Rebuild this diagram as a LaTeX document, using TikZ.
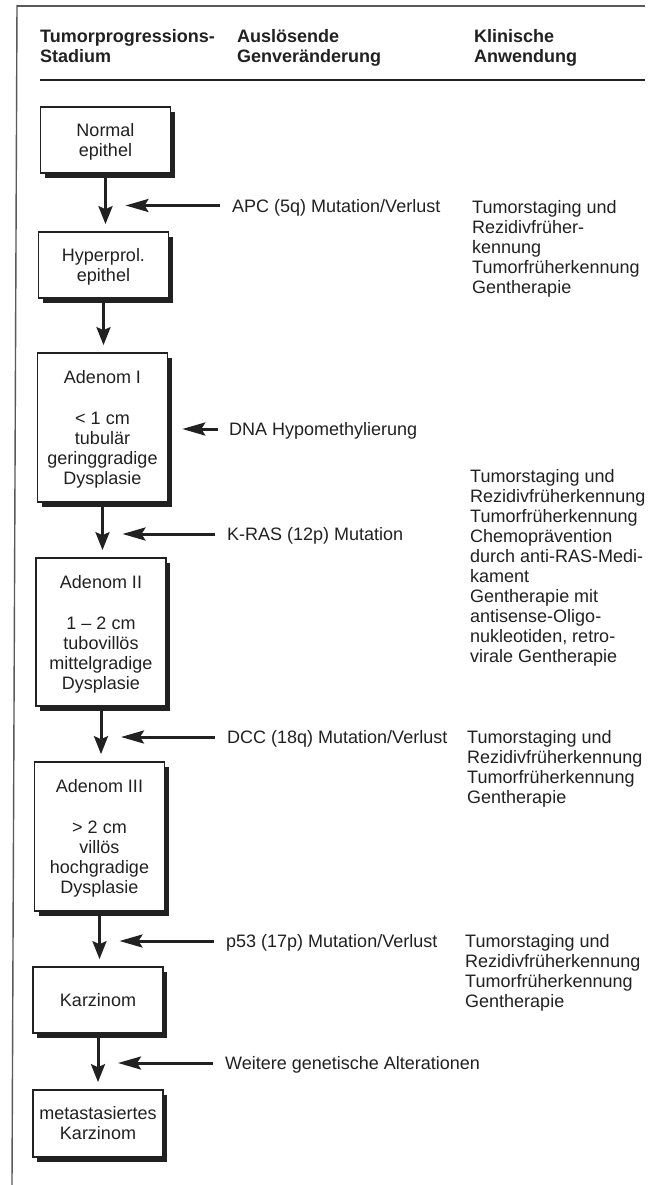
\documentclass[tikz,border=0pt]{standalone}
\usepackage{fontspec}
\setmainfont{Liberation Sans}
\usetikzlibrary{arrows.meta,shadows,calc}
\definecolor{ink}{gray}{0.13}
\definecolor{frame}{gray}{0.35}
\newcommand\myfs{\fontsize{18}{20}\selectfont}
\newcommand\tstr{\rule{0pt}{17pt}}
\newcommand\lines[1]{\begin{tabular}[t]{@{}l@{}}#1\end{tabular}}
\begin{document}
\begin{tikzpicture}[
  x=1pt, y=-1pt,
  stage/.style={draw=ink, line width=1.6pt, fill=white, align=center, font=\myfs,
    text=ink, inner sep=0pt, minimum width=130pt,
    drop shadow={shadow xshift=4pt, shadow yshift=-5pt, fill=ink, opacity=1}},
  lbl/.style={font=\myfs, text=ink, inner sep=0pt, anchor=base west,
    text height=13pt, text depth=0pt},
  cli/.style={font=\myfs, text=ink, inner sep=0pt, anchor=base west},
  head/.style={font=\myfs\bfseries, text=ink, inner sep=0pt, anchor=base west},
  varr/.style={draw=ink, line width=3pt, shorten >=7pt,
    -{Stealth[length=18pt,width=14pt,inset=3pt]}},
  harr/.style={draw=ink, line width=3pt,
    -{Stealth[length=23pt,width=13pt,inset=4pt]}}
]
\useasboundingbox (0,0) rectangle (671,1185);
\fill[white] (0,0) rectangle (671,1185);

% frame
\draw[frame, line width=1.4pt] (17,5) -- (12,1185);
\draw[frame, line width=1.4pt] (17,6) -- (645,6);

% header
\node[head] (h1) at (40,43) {\lines{Tumorprogressions-\\Stadium}};
\node[head] (h2) at (237,43) {\lines{Auslösende\\Genveränderung}};
\node[head] (h3) at (474,43) {\lines{Klinische\\Anwendung}};
\draw[ink, line width=2.7pt] (40,80) -- (645,80);

% stages
\node[stage, minimum height=66pt] (n1) at (105.5,140) {\tstr Normal\\epithel};
\node[stage, minimum height=66pt] (n2) at (103.5,265) {\tstr Hyperprol.\\epithel};
\node[stage, minimum height=149pt] (n3) at (102.5,427.5)
  {\tstr Adenom I\\[21pt]< 1 cm\\tubulär\\geringgradige\\Dysplasie};
\node[stage, minimum height=148pt] (n4) at (101,632)
  {\tstr Adenom II\\[21pt]1 -- 2 cm\\tubovillös\\mittelgradige\\Dysplasie};
\node[stage, minimum height=149pt] (n5) at (99.5,836.5)
  {\tstr Adenom III\\[21pt]> 2 cm\\villös\\hochgradige\\Dysplasie};
\node[stage, minimum height=66pt] (n6) at (98,1000) {Karzinom};
\node[stage, minimum height=67pt] (n7) at (98,1123.5) {metastasiertes\\Karzinom};

% progression arrows
\draw[varr] (n1.south) -- (n1.south |- n2.north);
\draw[varr] (n2.south) -- (n2.south |- n3.north);
\draw[varr] (n3.south) -- (n3.south |- n4.north);
\draw[varr] (n4.south) -- (n4.south |- n5.north);
\draw[varr] (n5.south) -- (n5.south |- n6.north);
\draw[varr] (n6.south) -- (n6.south |- n7.north);

% genetic changes
\node[lbl] (apc) at (232,212) {APC (5q) Mutation/Verlust};
\node[lbl] (dna) at (229,435.5) {DNA Hypomethylierung};
\node[lbl] (kras) at (227,540.5) {K-RAS (12p) Mutation};
\node[lbl] (dcc) at (227,743.5) {DCC (18q) Mutation/Verlust};
\node[lbl] (p53) at (226,947.5) {p53 (17p) Mutation/Verlust};
\node[lbl] (weit) at (225,1069.5) {Weitere genetische Alterationen};

\draw[harr] ($(apc.west)+(-12,0)$) -- ($(apc.west -| n1.south)+(20,0)$);
\draw[harr] ($(dna.west)+(-11,0)$) -- ($(dna.west -| n3.east)+(14,0)$);
\draw[harr] ($(kras.west)+(-12,0)$) -- ($(kras.west -| n3.south)+(20,0)$);
\draw[harr] ($(dcc.west)+(-12,0)$) -- ($(dcc.west -| n4.south)+(20,0)$);
\draw[harr] ($(p53.west)+(-12,0)$) -- ($(p53.west -| n5.south)+(20,0)$);
\draw[harr] ($(weit.west)+(-12,0)$) -- ($(weit.west -| n6.south)+(20,0)$);

% clinical applications
\node[cli] (c1) at (472,213) {\lines{Tumorstaging und\\Rezidivfrüher-\\kennung\\Tumorfrüherkennung\\Gentherapie}};
\node[cli] (c2) at (470,482.5) {\lines{Tumorstaging und\\Rezidivfrüherkennung\\Tumorfrüherkennung\\Chemoprävention\\durch anti-RAS-Medi-\\kament\\Gentherapie mit\\antisense-Oligo-\\nukleotiden, retro-\\virale Gentherapie}};
\node[cli] (c3) at (467,743.5) {\lines{Tumorstaging und\\Rezidivfrüherkennung\\Tumorfrüherkennung\\Gentherapie}};
\node[cli] (c4) at (465,947.5) {\lines{Tumorstaging und\\Rezidivfrüherkennung\\Tumorfrüherkennung\\Gentherapie}};
\end{tikzpicture}
\end{document}
